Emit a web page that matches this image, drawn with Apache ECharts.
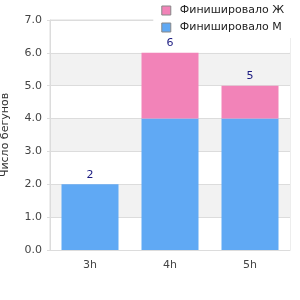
<!DOCTYPE html>
<html><head><meta charset="utf-8">
<script src="https://cdn.jsdelivr.net/npm/echarts@6/dist/echarts.min.js"></script>
<style>html,body{margin:0;padding:0;background:#fff}#c{width:300px;height:300px}</style>
</head><body><div id="c"></div>
<script>
const categories = ['3h', '4h', '5h'];
const menValues = [2, 4, 4];
const womenValues = [0, 2, 1];
const totals = [2, 6, 5];
const seriesNames = ['Финишировало Ж', 'Финишировало М'];

const chart = echarts.init(document.getElementById('c'));
const font = 'DejaVu Sans';
chart.setOption({
  animation: false,
  textStyle: { fontFamily: font },
  grid: { left: 50, right: 10, top: 20, bottom: 50, show: true, borderColor: '#dcdcdc', borderWidth: 1,
    backgroundColor: 'transparent', containLabel: false, outerBoundsMode: 'none' },
  legend: {
    data: seriesNames,
    orient: 'vertical', right: 0, top: 0,
    backgroundColor: '#fff',
    padding: [5, 16, 5, 8],
    itemWidth: 9, itemHeight: 9, itemGap: 6,
    icon: 'rect',
    itemStyle: { borderColor: '#888', borderWidth: 1 },
    textStyle: { fontFamily: font, fontSize: 11, color: '#222', padding: [0, 0, 0, 4] },
    z: 10
  },
  xAxis: {
    type: 'category', data: categories,
    axisLine: { show: true, lineStyle: { color: '#dcdcdc' } },
    axisTick: { show: false },
    axisLabel: { fontFamily: font, fontSize: 11, color: '#444', margin: 10 }
  },
  yAxis: {
    type: 'value', min: 0, max: 7, interval: 1,
    name: 'Число бегунов', nameLocation: 'middle', nameGap: 39, nameRotate: 90,
    nameTextStyle: { fontFamily: font, fontSize: 11, color: '#333' },
    axisLine: { show: true, lineStyle: { color: '#dcdcdc' } },
    axisTick: { show: true, length: 3, lineStyle: { color: '#dcdcdc' } },
    axisLabel: { fontFamily: font, fontSize: 11, color: '#444', margin: 8, formatter: v => v.toFixed(1) },
    splitLine: { show: true, lineStyle: { color: '#dcdcdc' } },
    splitArea: { show: true, areaStyle: { color: ['#ffffff', '#f2f2f2'] } }
  },
  series: [
    { name: 'Финишировало М', type: 'bar', stack: 's', data: menValues, barWidth: 57,
      itemStyle: { color: '#60a9f4' } },
    { name: 'Финишировало Ж', type: 'bar', stack: 's', data: womenValues, barWidth: 57,
      itemStyle: { color: '#f283b8' } },
    { name: 'total', type: 'bar', stack: 's', data: totals.map(() => 0), barWidth: 57, z: 20,
      itemStyle: { color: 'transparent' },
      label: { show: true, position: 'top', distance: 4, fontFamily: font, fontSize: 11, color: '#1a1a80',
        formatter: p => String(totals[p.dataIndex]) } }
  ]
});
</script></body></html>
